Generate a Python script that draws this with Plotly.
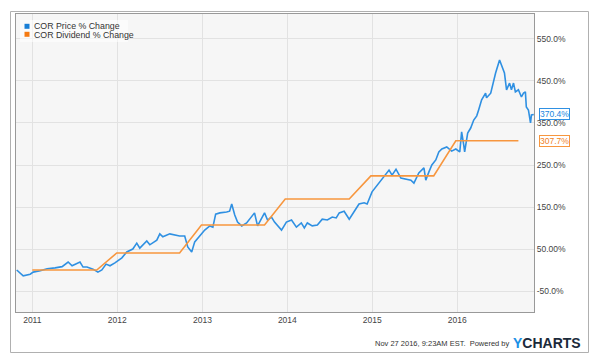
import plotly.graph_objects as go

# ---- data ----
price_dates = [
    "2010-10-26", "2010-11-23", "2010-12-23", "2011-01-05", "2011-02-04", "2011-03-06",
    "2011-04-09", "2011-05-09", "2011-06-04", "2011-06-21", "2011-07-25", "2011-08-07",
    "2011-08-24", "2011-09-19", "2011-10-10", "2011-10-27", "2011-11-14", "2011-12-01",
    "2011-12-22", "2012-01-21", "2012-02-11", "2012-03-08", "2012-03-25", "2012-04-07",
    "2012-05-07", "2012-05-20", "2012-06-19", "2012-07-02", "2012-07-15", "2012-08-14",
    "2012-09-25", "2012-10-17", "2012-10-30", "2012-11-16", "2012-11-29", "2012-12-20",
    "2013-01-11", "2013-02-02", "2013-02-15", "2013-02-27", "2013-03-17", "2013-04-15",
    "2013-04-28", "2013-05-07", "2013-05-20", "2013-06-01", "2013-06-19", "2013-07-10",
    "2013-07-31", "2013-08-13", "2013-08-26", "2013-09-12", "2013-09-25", "2013-10-08",
    "2013-10-25", "2013-11-07", "2013-12-07", "2013-12-28", "2014-01-19", "2014-02-09",
    "2014-03-02", "2014-03-15", "2014-03-28", "2014-04-18", "2014-05-10", "2014-05-31",
    "2014-06-22", "2014-07-13", "2014-07-30", "2014-08-12", "2014-09-02", "2014-09-24",
    "2014-10-15", "2014-11-05", "2014-11-27", "2014-12-10", "2014-12-31", "2015-01-17",
    "2015-02-20", "2015-03-14", "2015-03-27", "2015-04-13", "2015-05-04", "2015-05-26",
    "2015-06-16", "2015-06-29", "2015-07-20", "2015-08-11", "2015-08-19", "2015-09-01",
    "2015-09-14", "2015-10-01", "2015-10-14", "2015-10-27", "2015-11-17", "2015-12-08",
    "2015-12-26", "2016-01-12", "2016-01-20", "2016-01-29", "2016-02-02", "2016-02-15",
    "2016-02-28", "2016-03-12", "2016-03-25", "2016-04-02", "2016-04-15", "2016-05-02",
    "2016-05-06", "2016-05-24", "2016-06-06", "2016-06-14", "2016-07-01", "2016-07-14",
    "2016-07-22", "2016-07-31", "2016-08-13", "2016-08-21", "2016-08-30", "2016-09-07",
    "2016-09-20", "2016-10-03", "2016-10-12", "2016-10-20", "2016-10-24", "2016-11-02",
    "2016-11-11", "2016-11-15", "2016-11-25",
]
price_pct = [
    0, -14, -10, -5, -2, 3,
    5, 8, 19, 10, 19, 7,
    7, 2, -5, 0, 14, 10,
    17, 29, 43, 50, 64, 52,
    69, 60, 71, 86, 79, 86,
    81, 81, 55, 43, 67, 81,
    95, 105, 102, 133, 136, 138,
    140, 157, 131, 114, 105, 112,
    126, 136, 105, 124, 136, 119,
    126, 114, 95, 114, 119, 102,
    112, 100, 112, 105, 107, 121,
    119, 126, 124, 136, 140, 121,
    138, 157, 160, 157, 186, 198,
    221, 238, 226, 240, 219, 217,
    214, 207, 231, 243, 214, 233,
    250, 262, 281, 288, 293, 283,
    288, 281, 329, 298, 281, 326,
    338, 357, 367, 381, 405, 421,
    410, 421, 452, 469, 500, 483,
    469, 429, 445, 429, 445, 424,
    429, 412, 421, 424, 388, 381,
    350, 369, 370.4,
]

div_dates = [
    "2011-01-01", "2011-10-05", "2011-12-30", "2012-09-25", "2012-12-28",
    "2013-09-25", "2013-12-23", "2014-09-24", "2014-12-26", "2015-09-22",
    "2015-12-26", "2016-09-20",
]
div_pct = [0, 0, 40.5, 40.5, 107, 107, 169, 169, 224, 224, 307.7, 307.7]

series_names = ["COR Price % Change", "COR Dividend % Change"]
y_tick_vals = [-50, 50, 150, 250, 350, 450, 550]
y_tick_text = ["-50.0%", "50.00%", "150.0%", "250.0%", "350.0%", "450.0%", "550.0%"]
x_tick_vals = ["2011-01-01", "2012-01-01", "2013-01-01", "2014-01-01", "2015-01-01", "2016-01-01"]
x_tick_text = ["2011", "2012", "2013", "2014", "2015", "2016"]
last_labels = ["370.4%", "307.7%"]
footer_text = "Nov 27 2016, 9:23AM EST.  Powered by"

BLUE = "#2f90e2"
ORANGE = "#f7963e"
FONT = "Liberation Sans, Arial, sans-serif"

fig = go.Figure()
fig.add_trace(go.Scatter(x=price_dates, y=price_pct, mode="lines", name=series_names[0],
                         line=dict(color=BLUE, width=1.6), showlegend=False))
fig.add_trace(go.Scatter(x=div_dates, y=div_pct, mode="lines", name=series_names[1],
                         line=dict(color=ORANGE, width=1.6), showlegend=False))

W, H = 600, 363
L, R, T, B = 16, 534, 14, 312
pw, ph = R - L, B - T


def px(x):
    return (x - L) / pw


def py(y):
    return (B - y) / ph


FRAME = dict(color="#b0b0b0", width=1)
fx0, fx1, fy0, fy1 = px(10.5), px(588.5), py(352.5), py(11.5)

shapes = [
    # outer frame (four edges)
    dict(type="line", xref="paper", yref="paper", x0=fx0, x1=fx1, y0=fy1, y1=fy1, line=FRAME, layer="above"),
    dict(type="line", xref="paper", yref="paper", x0=fx0, x1=fx1, y0=fy0, y1=fy0, line=FRAME, layer="above"),
    dict(type="line", xref="paper", yref="paper", x0=fx0, x1=fx0, y0=fy0, y1=fy1, line=FRAME, layer="above"),
    dict(type="line", xref="paper", yref="paper", x0=fx1, x1=fx1, y0=fy0, y1=fy1, line=FRAME, layer="above"),
    # legend backdrop
    dict(type="rect", xref="paper", yref="paper", x0=px(20), x1=px(128), y0=py(42), y1=py(20),
         line=dict(width=0), fillcolor="rgba(255,255,255,0.55)", layer="above"),
    # legend squares
    dict(type="rect", xref="paper", yref="paper", x0=px(24.5), x1=px(29.5), y0=py(28.8), y1=py(23.8),
         line=dict(width=0), fillcolor="#1a7fd6"),
    dict(type="rect", xref="paper", yref="paper", x0=px(24.5), x1=px(29.5), y0=py(36.8), y1=py(31.8),
         line=dict(width=0), fillcolor="#f57a12"),
]

annotations = [
    dict(xref="paper", yref="paper", x=px(31.5), y=py(26.3), text=series_names[0], showarrow=False,
         xanchor="left", yanchor="middle", font=dict(family=FONT, size=8.8, color="#333")),
    dict(xref="paper", yref="paper", x=px(31.5), y=py(34.5), text=series_names[1], showarrow=False,
         xanchor="left", yanchor="middle", font=dict(family=FONT, size=8.8, color="#333")),
    dict(xref="paper", yref="y", x=px(538.5), y=price_pct[-1], text=last_labels[0], showarrow=False,
         xanchor="left", yanchor="middle", bgcolor="white", bordercolor="#2f90e2", borderwidth=1,
         borderpad=0, font=dict(family=FONT, size=8.5, color="#1a86e0")),
    dict(xref="paper", yref="y", x=px(538.5), y=div_pct[-1], text=last_labels[1], showarrow=False,
         xanchor="left", yanchor="middle", bgcolor="white", bordercolor="#f7963e", borderwidth=1,
         borderpad=0, font=dict(family=FONT, size=8.5, color="#f07f1e")),
    dict(xref="paper", yref="paper", x=px(511), y=py(343), text=footer_text, showarrow=False,
         xanchor="right", yanchor="middle", font=dict(family=FONT, size=7.5, color="#333")),
    dict(xref="paper", yref="paper", x=px(582.5), y=py(342.5),
         text="<b><span style='color:#1a90e6'>Y</span>CHARTS</b>", showarrow=False,
         xanchor="right", yanchor="middle", font=dict(family=FONT, size=14, color="#1b2a3a")),
]

fig.update_layout(
    width=W, height=H,
    margin=dict(l=L, r=W - R, t=T, b=H - B, pad=0),
    paper_bgcolor="white",
    plot_bgcolor="#f6f6f6",
    font=dict(family=FONT, size=8.5, color="#444"),
    showlegend=False,
    shapes=shapes,
    annotations=annotations,
    xaxis=dict(
        type="date", range=["2010-10-23", "2016-11-26"],
        tickvals=x_tick_vals, ticktext=x_tick_text, ticks="",
        showgrid=True, gridcolor="#e2e2e2", gridwidth=1,
        showline=True, linecolor="#999", linewidth=1, mirror=True,
        zeroline=False, tickfont=dict(size=8.5, color="#444"),
    ),
    yaxis=dict(
        side="right", range=[-100, 609.5],
        tickvals=y_tick_vals, ticktext=y_tick_text, ticks="",
        showgrid=True, gridcolor="#e2e2e2", gridwidth=1,
        showline=True, linecolor="#999", linewidth=1, mirror=True,
        zeroline=False, tickfont=dict(size=8.5, color="#444"),
    ),
)

fig.write_html(
    "out.html",
    config={"displayModeBar": False},
    post_script="document.body.style.margin='0';document.body.style.overflow='hidden';",
)
